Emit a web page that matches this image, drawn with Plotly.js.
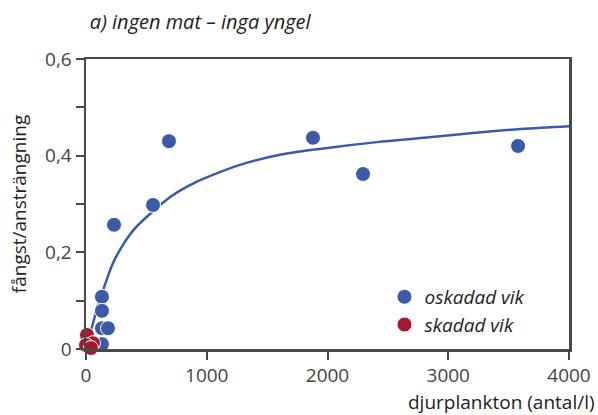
<!DOCTYPE html>
<html>
<head>
<meta charset="utf-8">
<script src="https://cdn.plot.ly/plotly-3.0.1.min.js"></script>
<style>html,body{margin:0;padding:0;background:#fff;}#chart{width:598px;height:415px;}</style>
</head>
<body>
<div id="chart"></div>
<script>
// Data
const oskadadX = [132, 132, 132, 182, 132, 232, 555, 687, 1880, 2294, 3578];
const oskadadY = [0.108, 0.079, 0.043, 0.043, 0.010, 0.257, 0.298, 0.430, 0.437, 0.362, 0.420];
const skadadX = [8, 58, 0, 41];
const skadadY = [0.029, 0.012, 0.008, 0.002];
const curveX = [0, 50, 100, 150, 224, 300, 400, 547, 700, 861, 1000, 1275, 1607, 2000, 2410, 2800, 3205, 3600, 4000];
const curveY = [0.005, 0.046, 0.092, 0.128, 0.178, 0.213, 0.248, 0.283, 0.315, 0.339, 0.355, 0.381, 0.402, 0.416, 0.428, 0.437, 0.447, 0.455, 0.461];
const xTickVals = [0, 1000, 2000, 3000, 4000];
const xTickText = ["0", "1000", "2000", "3000", "4000"];
const yTickVals = [0, 0.1, 0.2, 0.3, 0.4, 0.5, 0.6];
const yTickText = ["0", "", "0,2", "", "0,4", "", "0,6"];

const FONT = "Open Sans, sans-serif";
const BLUE = "#3b5ba8";
const RED = "#a4192f";
const AX = "#4a4a44";

const traces = [
  {x: curveX, y: curveY, mode: "lines", line: {color: BLUE, width: 2.5, shape: "spline"}, showlegend: false, hoverinfo: "skip", cliponaxis: false},
  {x: oskadadX, y: oskadadY, mode: "markers", name: "<i>oskadad vik</i>", marker: {color: BLUE, size: 15, line: {color: "#ffffff", width: 1}}, cliponaxis: false},
  {x: skadadX, y: skadadY, mode: "markers", name: "<i>skadad vik</i>", marker: {color: RED, size: 15, line: {color: "#ffffff", width: 1}}, cliponaxis: false}
];

const layout = {
  width: 598, height: 415,
  margin: {l: 86, r: 29, t: 59, b: 66},
  paper_bgcolor: "#fff", plot_bgcolor: "#fff",
  font: {family: FONT, color: "#333", size: 19},
  title: {text: "<i>a) ingen mat – inga yngel</i>", x: 0.008, xref: "paper", xanchor: "left", y: 0.947, yref: "container", yanchor: "middle", font: {family: FONT, size: 20, color: "#222"}},
  showlegend: true,
  legend: {x: 0.618, xanchor: "left", y: 0.245, yanchor: "top", bgcolor: "rgba(0,0,0,0)", font: {family: FONT, size: 19, color: "#222"}, itemwidth: 30, tracegroupgap: 0},
  xaxis: {
    range: [0, 4000], tickvals: xTickVals, ticktext: xTickText,
    showgrid: false, zeroline: false, showline: true, linecolor: AX, linewidth: 2.5, mirror: true,
    ticks: "outside", ticklen: 8, tickwidth: 2, tickcolor: AX,
    tickfont: {family: FONT, size: 19, color: "#444"}
  },
  yaxis: {
    range: [0, 0.6], tickvals: yTickVals, ticktext: yTickText,
    showgrid: false, zeroline: false, showline: true, linecolor: AX, linewidth: 2.5, mirror: true,
    ticks: "outside", ticklen: 8, tickwidth: 2, tickcolor: AX,
    tickfont: {family: FONT, size: 19, color: "#444"},
    title: {text: "fångst/ansträngning", font: {family: FONT, size: 19, color: "#222"}, standoff: 14}
  },
  annotations: [
    {text: "djurplankton (antal/l)", xref: "paper", yref: "paper", x: 1.058, xanchor: "right", y: -0.183, yanchor: "middle", showarrow: false, font: {family: FONT, size: 19, color: "#222"}}
  ]
};

Plotly.newPlot("chart", traces, layout, {displayModeBar: false, staticPlot: true});
</script>
</body>
</html>
